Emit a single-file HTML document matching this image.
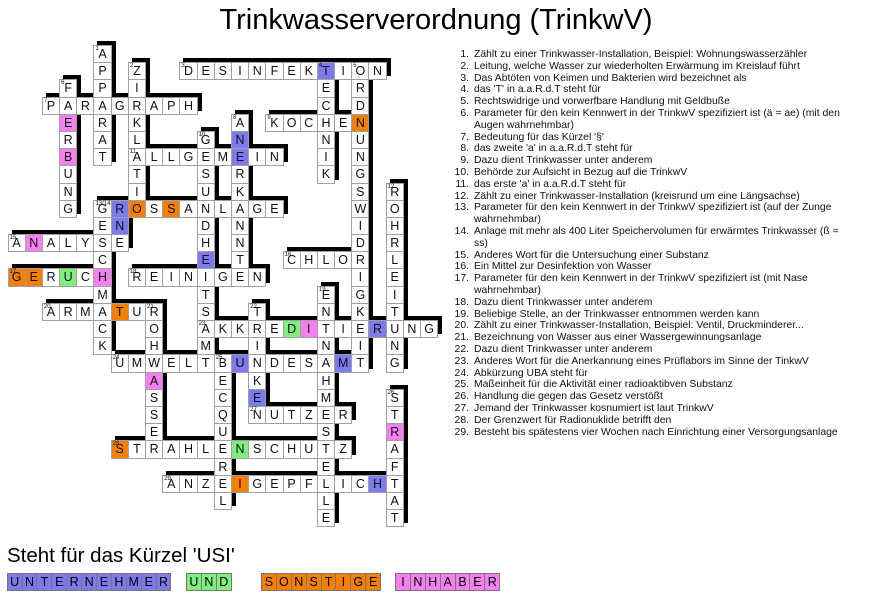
<!DOCTYPE html>
<html><head><meta charset="utf-8"><style>
body{margin:0;width:872px;height:615px;background:#fff;position:relative;overflow:hidden;font-family:"Liberation Sans",Arial,sans-serif;}
#t{position:absolute;left:0;width:872px;top:4px;text-align:center;font-size:29px;color:#000;}
#g{position:absolute;left:7.5px;top:45px;display:grid;grid-template-columns:repeat(25,17.2px);grid-template-rows:repeat(28,17.2px);filter:drop-shadow(4px -4px 0 #000);}
#g i{font-style:normal;background:#fff;border:1px solid #a0a0a0;margin:0 -1px -1px 0;box-sizing:border-box;font-size:12.5px;line-height:17px;text-align:center;position:relative;color:#111;}
#g i s{position:absolute;left:1px;top:0;font-size:6px;line-height:6px;text-decoration:none;}
#g i.b,#l .b{background:#7b7bef}#g i.o,#l .o{background:#f77f00}#g i.p,#l .p{background:#f780f0}#g i.n,#l .n{background:#7ef07e}
#c{position:absolute;left:474px;top:49px;font-size:10.4px;line-height:11.8px;color:#111;width:400px;}
#c div{position:relative}
#c div b{font-weight:normal;position:absolute;right:100%;margin-right:5px;}
#u{position:absolute;left:7px;top:544px;font-size:20.5px;}
#l{position:absolute;left:0;top:0;width:872px;height:615px;}
#l span{position:absolute;top:573px;height:18px;display:flex;width:300px;}
#l span i{flex:none;font-style:normal;width:15.9px;height:18px;border:1px solid #777;box-sizing:border-box;margin-right:-1px;font-size:12.5px;line-height:17px;text-align:center;}
</style></head><body>
<div id="t">Trinkwasserverordnung (TrinkwV)</div>
<div id="g">
<i style="grid-area:1/6"><s>1</s>A</i>
<i style="grid-area:2/6">P</i><i style="grid-area:2/8"><s>2</s>Z</i><i style="grid-area:2/11"><s>3</s>D</i><i style="grid-area:2/12">E</i><i style="grid-area:2/13">S</i><i style="grid-area:2/14">I</i><i style="grid-area:2/15">N</i><i style="grid-area:2/16">F</i><i style="grid-area:2/17">E</i><i style="grid-area:2/18">K</i><i class="b" style="grid-area:2/19"><s>4</s>T</i><i style="grid-area:2/20">I</i><i style="grid-area:2/21"><s>5</s>O</i><i style="grid-area:2/22">N</i>
<i style="grid-area:3/4"><s>6</s>F</i><i style="grid-area:3/6">P</i><i style="grid-area:3/8">I</i><i style="grid-area:3/19">E</i><i style="grid-area:3/21">R</i>
<i style="grid-area:4/3"><s>7</s>P</i><i style="grid-area:4/4">A</i><i style="grid-area:4/5">R</i><i style="grid-area:4/6">A</i><i style="grid-area:4/7">G</i><i style="grid-area:4/8">R</i><i style="grid-area:4/9">A</i><i style="grid-area:4/10">P</i><i style="grid-area:4/11">H</i><i style="grid-area:4/19">C</i><i style="grid-area:4/21">D</i>
<i class="p" style="grid-area:5/4">E</i><i style="grid-area:5/6">R</i><i style="grid-area:5/8">K</i><i style="grid-area:5/14"><s>8</s>A</i><i style="grid-area:5/16"><s>9</s>K</i><i style="grid-area:5/17">O</i><i style="grid-area:5/18">C</i><i style="grid-area:5/19">H</i><i style="grid-area:5/20">E</i><i class="o" style="grid-area:5/21">N</i>
<i style="grid-area:6/4">R</i><i style="grid-area:6/6">A</i><i style="grid-area:6/8">L</i><i style="grid-area:6/12"><s>10</s>G</i><i class="b" style="grid-area:6/14">N</i><i style="grid-area:6/19">N</i><i style="grid-area:6/21">U</i>
<i class="p" style="grid-area:7/4">B</i><i style="grid-area:7/6">T</i><i style="grid-area:7/8"><s>11</s>A</i><i style="grid-area:7/9">L</i><i style="grid-area:7/10">L</i><i style="grid-area:7/11">G</i><i style="grid-area:7/12">E</i><i style="grid-area:7/13">M</i><i class="b" style="grid-area:7/14">E</i><i style="grid-area:7/15">I</i><i style="grid-area:7/16">N</i><i style="grid-area:7/19">I</i><i style="grid-area:7/21">N</i>
<i style="grid-area:8/4">U</i><i style="grid-area:8/8">T</i><i style="grid-area:8/12">S</i><i style="grid-area:8/14">R</i><i style="grid-area:8/19">K</i><i style="grid-area:8/21">G</i>
<i style="grid-area:9/4">N</i><i style="grid-area:9/8">I</i><i style="grid-area:9/12">U</i><i style="grid-area:9/14">K</i><i style="grid-area:9/21">S</i><i style="grid-area:9/23"><s>12</s>R</i>
<i style="grid-area:10/4">G</i><i style="grid-area:10/6"><s>13/14</s>G</i><i class="b" style="grid-area:10/7">R</i><i class="o" style="grid-area:10/8">O</i><i style="grid-area:10/9">S</i><i class="o" style="grid-area:10/10">S</i><i style="grid-area:10/11">A</i><i style="grid-area:10/12">N</i><i style="grid-area:10/13">L</i><i style="grid-area:10/14">A</i><i style="grid-area:10/15">G</i><i style="grid-area:10/16">E</i><i style="grid-area:10/21">W</i><i style="grid-area:10/23">O</i>
<i style="grid-area:11/6">E</i><i class="b" style="grid-area:11/7">N</i><i style="grid-area:11/12">D</i><i style="grid-area:11/14">N</i><i style="grid-area:11/21">I</i><i style="grid-area:11/23">H</i>
<i style="grid-area:12/1"><s>15</s>A</i><i class="p" style="grid-area:12/2">N</i><i style="grid-area:12/3">A</i><i style="grid-area:12/4">L</i><i style="grid-area:12/5">Y</i><i style="grid-area:12/6">S</i><i style="grid-area:12/7">E</i><i style="grid-area:12/12">H</i><i style="grid-area:12/14">N</i><i style="grid-area:12/21">D</i><i style="grid-area:12/23">R</i>
<i style="grid-area:13/6">C</i><i class="b" style="grid-area:13/12">E</i><i style="grid-area:13/14">T</i><i style="grid-area:13/17"><s>16</s>C</i><i style="grid-area:13/18">H</i><i style="grid-area:13/19">L</i><i style="grid-area:13/20">O</i><i style="grid-area:13/21">R</i><i style="grid-area:13/23">L</i>
<i class="o" style="grid-area:14/1"><s>17</s>G</i><i class="o" style="grid-area:14/2">E</i><i style="grid-area:14/3">R</i><i class="n" style="grid-area:14/4">U</i><i style="grid-area:14/5">C</i><i class="p" style="grid-area:14/6">H</i><i style="grid-area:14/8"><s>18</s>R</i><i style="grid-area:14/9">E</i><i style="grid-area:14/10">I</i><i style="grid-area:14/11">N</i><i style="grid-area:14/12">I</i><i style="grid-area:14/13">G</i><i style="grid-area:14/14">E</i><i style="grid-area:14/15">N</i><i style="grid-area:14/21">I</i><i style="grid-area:14/23">E</i>
<i style="grid-area:15/6">M</i><i style="grid-area:15/12">T</i><i style="grid-area:15/19"><s>19</s>E</i><i style="grid-area:15/21">G</i><i style="grid-area:15/23">I</i>
<i style="grid-area:16/3"><s>20</s>A</i><i style="grid-area:16/4">R</i><i style="grid-area:16/5">M</i><i style="grid-area:16/6">A</i><i class="o" style="grid-area:16/7">T</i><i style="grid-area:16/8">U</i><i style="grid-area:16/9"><s>21</s>R</i><i style="grid-area:16/12">S</i><i style="grid-area:16/15"><s>22</s>T</i><i style="grid-area:16/19">N</i><i style="grid-area:16/21">K</i><i style="grid-area:16/23">T</i>
<i style="grid-area:17/6">C</i><i style="grid-area:17/9">O</i><i style="grid-area:17/12"><s>23</s>A</i><i style="grid-area:17/13">K</i><i style="grid-area:17/14">K</i><i style="grid-area:17/15">R</i><i style="grid-area:17/16">E</i><i class="n" style="grid-area:17/17">D</i><i class="p" style="grid-area:17/18">I</i><i style="grid-area:17/19">T</i><i style="grid-area:17/20">I</i><i style="grid-area:17/21">E</i><i class="b" style="grid-area:17/22">R</i><i style="grid-area:17/23">U</i><i style="grid-area:17/24">N</i><i style="grid-area:17/25">G</i>
<i style="grid-area:18/6">K</i><i style="grid-area:18/9">H</i><i style="grid-area:18/12">M</i><i style="grid-area:18/15">I</i><i style="grid-area:18/19">N</i><i style="grid-area:18/21">I</i><i style="grid-area:18/23">N</i>
<i style="grid-area:19/7"><s>24</s>U</i><i style="grid-area:19/8">M</i><i style="grid-area:19/9">W</i><i style="grid-area:19/10">E</i><i style="grid-area:19/11">L</i><i style="grid-area:19/12">T</i><i style="grid-area:19/13"><s>25</s>B</i><i class="b" style="grid-area:19/14">U</i><i style="grid-area:19/15">N</i><i style="grid-area:19/16">D</i><i style="grid-area:19/17">E</i><i style="grid-area:19/18">S</i><i style="grid-area:19/19">A</i><i class="b" style="grid-area:19/20">M</i><i style="grid-area:19/21">T</i><i style="grid-area:19/23">G</i>
<i class="p" style="grid-area:20/9">A</i><i style="grid-area:20/13">E</i><i style="grid-area:20/15">K</i><i style="grid-area:20/19">H</i>
<i style="grid-area:21/9">S</i><i style="grid-area:21/13">C</i><i class="b" style="grid-area:21/15">E</i><i style="grid-area:21/19">M</i><i style="grid-area:21/23"><s>26</s>S</i>
<i style="grid-area:22/9">S</i><i style="grid-area:22/13">Q</i><i style="grid-area:22/15"><s>27</s>N</i><i style="grid-area:22/16">U</i><i style="grid-area:22/17">T</i><i style="grid-area:22/18">Z</i><i style="grid-area:22/19">E</i><i style="grid-area:22/20">R</i><i style="grid-area:22/23">T</i>
<i style="grid-area:23/9">E</i><i style="grid-area:23/13">U</i><i style="grid-area:23/19">S</i><i class="p" style="grid-area:23/23">R</i>
<i class="o" style="grid-area:24/7"><s>28</s>S</i><i style="grid-area:24/8">T</i><i style="grid-area:24/9">R</i><i style="grid-area:24/10">A</i><i style="grid-area:24/11">H</i><i style="grid-area:24/12">L</i><i style="grid-area:24/13">E</i><i class="n" style="grid-area:24/14">N</i><i style="grid-area:24/15">S</i><i style="grid-area:24/16">C</i><i style="grid-area:24/17">H</i><i style="grid-area:24/18">U</i><i style="grid-area:24/19">T</i><i style="grid-area:24/20">Z</i><i style="grid-area:24/23">A</i>
<i style="grid-area:25/13">R</i><i style="grid-area:25/19">E</i><i style="grid-area:25/23">F</i>
<i style="grid-area:26/10"><s>29</s>A</i><i style="grid-area:26/11">N</i><i style="grid-area:26/12">Z</i><i style="grid-area:26/13">E</i><i class="o" style="grid-area:26/14">I</i><i style="grid-area:26/15">G</i><i style="grid-area:26/16">E</i><i style="grid-area:26/17">P</i><i style="grid-area:26/18">F</i><i style="grid-area:26/19">L</i><i style="grid-area:26/20">I</i><i style="grid-area:26/21">C</i><i class="b" style="grid-area:26/22">H</i><i style="grid-area:26/23">T</i>
<i style="grid-area:27/13">L</i><i style="grid-area:27/19">L</i><i style="grid-area:27/23">A</i>
<i style="grid-area:28/19">E</i><i style="grid-area:28/23">T</i>
</div>
<div id="c">
<div><b>1.</b>Zählt zu einer Trinkwasser-Installation, Beispiel: Wohnungswasserzähler</div>
<div><b>2.</b>Leitung, welche Wasser zur wiederholten Erwärmung im Kreislauf führt</div>
<div><b>3.</b>Das Abtöten von Keimen und Bakterien wird bezeichnet als</div>
<div><b>4.</b>das 'T' in a.a.R.d.T steht für</div>
<div><b>5.</b>Rechtswidrige und vorwerfbare Handlung mit Geldbuße</div>
<div><b>6.</b>Parameter für den kein Kennwert in der TrinkwV spezifiziert ist (ä = ae) (mit den<br>Augen wahrnehmbar)</div>
<div><b>7.</b>Bedeutung für das Kürzel '§'</div>
<div><b>8.</b>das zweite 'a' in a.a.R.d.T steht für</div>
<div><b>9.</b>Dazu dient Trinkwasser unter anderem</div>
<div><b>10.</b>Behörde zur Aufsicht in Bezug auf die TrinkwV</div>
<div><b>11.</b>das erste 'a' in a.a.R.d.T steht für</div>
<div><b>12.</b>Zählt zu einer Trinkwasser-Installation (kreisrund um eine Längsachse)</div>
<div><b>13.</b>Parameter für den kein Kennwert in der TrinkwV spezifiziert ist (auf der Zunge<br>wahrnehmbar)</div>
<div><b>14.</b>Anlage mit mehr als 400 Liter Speichervolumen für erwärmtes Trinkwasser (ß =<br>ss)</div>
<div><b>15.</b>Anderes Wort für die Untersuchung einer Substanz</div>
<div><b>16.</b>Ein Mittel zur Desinfektion von Wasser</div>
<div><b>17.</b>Parameter für den kein Kennwert in der TrinkwV spezifiziert ist (mit Nase<br>wahrnehmbar)</div>
<div><b>18.</b>Dazu dient Trinkwasser unter anderem</div>
<div><b>19.</b>Beliebige Stelle, an der Trinkwasser entnommen werden kann</div>
<div><b>20.</b>Zählt zu einer Trinkwasser-Installation, Beispiel: Ventil, Druckminderer...</div>
<div><b>21.</b>Bezeichnung von Wasser aus einer Wassergewinnungsanlage</div>
<div><b>22.</b>Dazu dient Trinkwasser unter anderem</div>
<div><b>23.</b>Anderes Wort für die Anerkannung eines Prüflabors im Sinne der TinkwV</div>
<div><b>24.</b>Abkürzung UBA steht für</div>
<div><b>25.</b>Maßeinheit für die Aktivität einer radioaktibven Substanz</div>
<div><b>26.</b>Handlung die gegen das Gesetz verstößt</div>
<div><b>27.</b>Jemand der Trinkwasser kosnumiert ist laut TrinkwV</div>
<div><b>28.</b>Der Grenzwert für Radionuklide betrifft den</div>
<div><b>29.</b>Besteht bis spätestens vier Wochen nach Einrichtung einer Versorgungsanlage</div>
</div>
<div id="u">Steht für das Kürzel 'USI'</div>
<div id="l">
<span style="left:6.7px"><i class="b">U</i><i class="b">N</i><i class="b">T</i><i class="b">E</i><i class="b">R</i><i class="b">N</i><i class="b">E</i><i class="b">H</i><i class="b">M</i><i class="b">E</i><i class="b">R</i></span>
<span style="left:186px"><i class="n">U</i><i class="n">N</i><i class="n">D</i></span>
<span style="left:261px"><i class="o">S</i><i class="o">O</i><i class="o">N</i><i class="o">S</i><i class="o">T</i><i class="o">I</i><i class="o">G</i><i class="o">E</i></span>
<span style="left:395px"><i class="p">I</i><i class="p">N</i><i class="p">H</i><i class="p">A</i><i class="p">B</i><i class="p">E</i><i class="p">R</i></span>
</div>
</body></html>
